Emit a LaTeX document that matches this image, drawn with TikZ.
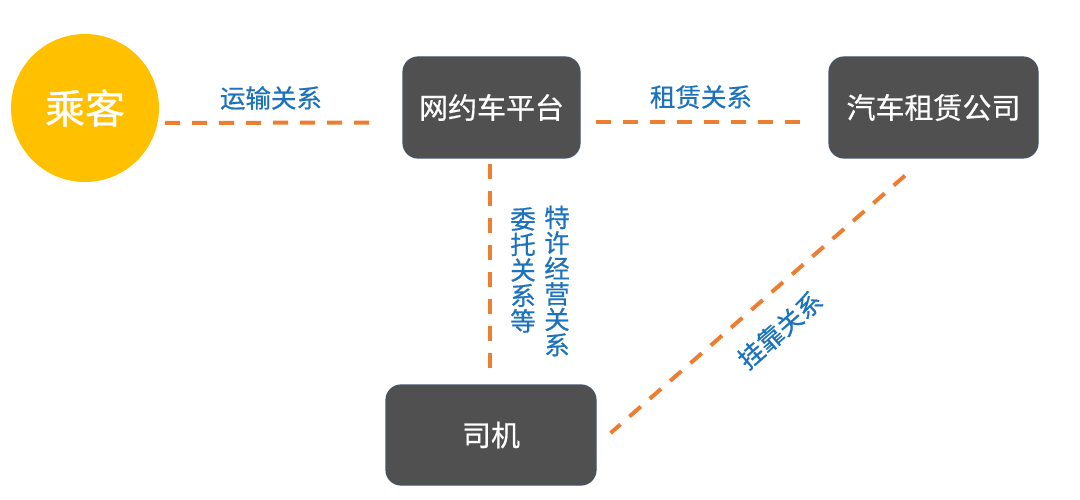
\documentclass[tikz,border=0pt]{standalone}
\usepackage{fontspec}
\newfontfamily\cjk[FakeBold=0.6]{Noto Sans CJK SC}
\usepackage{tikz}
\usetikzlibrary{calc}
\usetikzlibrary{positioning}
\definecolor{relorange}{HTML}{ED7D31}
\definecolor{relblue}{HTML}{1C72BD}
\definecolor{gold}{HTML}{FFC000}
\definecolor{boxgrey}{HTML}{505050}
\definecolor{boxline}{HTML}{44546A}

\begin{document}
\begin{tikzpicture}[x=1pt,y=1pt,
  box/.style={draw=boxline,line width=1.2pt,fill=boxgrey,rounded corners=15pt,
    text=white,font=\cjk\fontsize{29}{30}\selectfont},
  rel/.style={draw=relorange,line width=4pt,dash pattern=on 15pt off 12pt},
  lbl/.style={text=relblue,font=\cjk\fontsize{25.5}{25.5}\selectfont,inner sep=0pt}]
 \useasboundingbox (0,0) rectangle (1080,499);
 \node[circle,fill=gold,minimum size=148pt,text=white,
   font=\cjk\fontsize{40}{40}\selectfont] (passenger) at (85,391) {乘客};
 \node[box,minimum width=177pt,minimum height=101pt] (platform) at (491.5,391.5) {网约车平台};
 \node[box,minimum width=209pt,minimum height=101pt] (rental) at (933.5,391.5) {汽车租赁公司};
 \node[box,minimum width=210pt,minimum height=100pt] (driver) at (491,64) {司机};

 \draw[rel] ([shift={(6,-15)}]passenger.east) -- ([shift={(-28,-15)}]platform.west);
 \draw[rel] ([shift={(15,-15)}]platform.east) -- ([shift={(-24,-15)}]rental.west);
 \draw[rel] ([shift={(-1.5,-5)}]platform.south) -- ([shift={(-1,13)}]driver.north);
 \draw[rel] ([shift={(-28.5,-17)}]rental.south) -- ([shift={(14,2)}]driver.east);

 \node[lbl] (transport) at (271,401) {运输关系};
 \node[lbl] (lease) at (701,402) {租赁关系};
 \node[lbl,align=center] (entrust) at (523,229) {委\\托\\关\\系\\等};
 \node[lbl,align=center] (franchise) at (557,218) {特\\许\\经\\营\\关\\系};
 \node[lbl,rotate=41] (affiliate) at (780,169) {挂靠关系};
\end{tikzpicture}
\end{document}
